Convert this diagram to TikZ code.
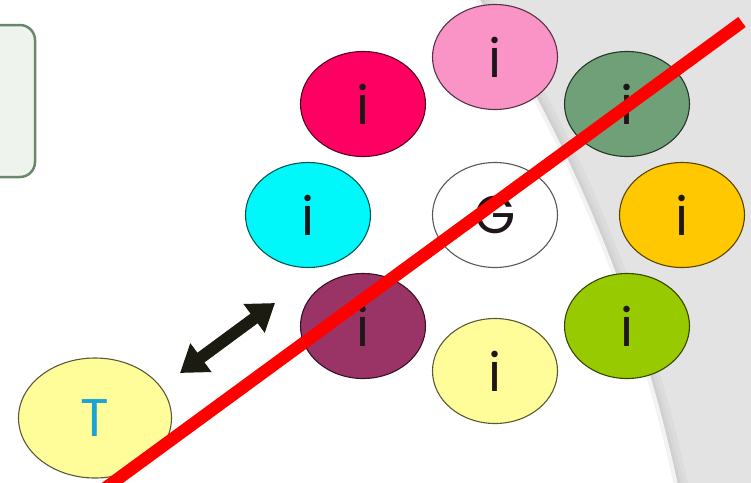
\documentclass[tikz,border=0pt]{standalone}
\usepackage{fontspec}
\setmainfont{Poppins}
\usetikzlibrary{shapes.geometric,arrows.meta}

\definecolor{bgrey}{HTML}{E3E3E3}
\definecolor{edgegrey}{HTML}{D0D0D0}
\definecolor{boxfill}{HTML}{EEF3EE}
\definecolor{boxline}{HTML}{6B876B}
\definecolor{cCrimson}{HTML}{FE0062}
\definecolor{cPink}{HTML}{FA93C6}
\definecolor{cSage}{HTML}{6FA077}
\definecolor{cCyan}{HTML}{00F8FA}
\definecolor{cOrange}{HTML}{FFC800}
\definecolor{cPlum}{HTML}{9A3366}
\definecolor{cCream}{HTML}{FFFD99}
\definecolor{cLime}{HTML}{98CA00}
\definecolor{cTeal}{HTML}{1CA3D6}
\definecolor{glyph}{HTML}{1E1618}
\definecolor{arrowink}{HTML}{1B1B12}

\tikzset{
  blob/.style={ellipse, draw=#1!35!black, fill=#1, line width=1.1pt,
    minimum width=125pt, minimum height=105pt, inner sep=0pt,
    font=\fontsize{53}{53}\selectfont, text=glyph},
  bigblob/.style={blob=#1, minimum width=153pt, minimum height=120pt},
  strike/.style={draw=red, line width=12.5pt},
  twoway/.style={draw=arrowink, line width=12pt,
    {Triangle[length=26pt,width=34pt]}-{Triangle[length=26pt,width=34pt]}}
}

\begin{document}
\begin{tikzpicture}[x=1pt,y=-1pt]
  \useasboundingbox (0,0) rectangle (751,482);
  \clip (0,0) rectangle (751,482);

  % grey backdrop outside the large arc, with a soft shaded rim
  \fill[bgrey, even odd rule] (-10,-10) rectangle (761,492) (-789,800) circle (1500);
  \draw[edgegrey!35!bgrey, line width=4pt] (-789,800) circle (1508);
  \draw[edgegrey!65!bgrey, line width=3pt] (-789,800) circle (1504.5);
  \draw[edgegrey, line width=3pt] (-789,800) circle (1501.5);
  \draw[edgegrey!25!white, line width=4pt] (-789,800) circle (1498);

  % partly visible panel at the left
  \draw[boxline, fill=boxfill, line width=2.5pt, rounded corners=15pt]
    (-30,25) rectangle (35,177);

  % ring of nodes
  \node[blob=cCrimson] (crimson) at (363,104) {i};
  \node[blob=cPink]    (pink)    at (495,57)  {i};
  \node[blob=cSage]    (sage)    at (627,104) {i};
  \node[blob=cCyan]    (cyan)    at (308,215) {i};
  \node[blob=white]    (centre)  at (495,215) {G};
  \node[blob=cOrange]  (orange)  at (682,215) {i};
  \node[blob=cPlum]    (plum)    at (363,326) {i};
  \node[blob=cCream]   (cream)   at (495,371) {i};
  \node[blob=cLime]    (lime)    at (627,326) {i};

  % target node
  \node[bigblob=cCream, text=cTeal] (target) at (95,418) {T};

  % two-way arrow between target and ring
  \coordinate (arrowlow)  at (180,373);
  \coordinate (arrowhigh) at (275,303);
  \draw[twoway] (arrowlow) -- (arrowhigh);

  % red strike line
  \coordinate (strikelow)  at (100,492);
  \coordinate (strikehigh) at (742,22);
  \draw[strike] (strikelow) -- (strikehigh);
\end{tikzpicture}
\end{document}
